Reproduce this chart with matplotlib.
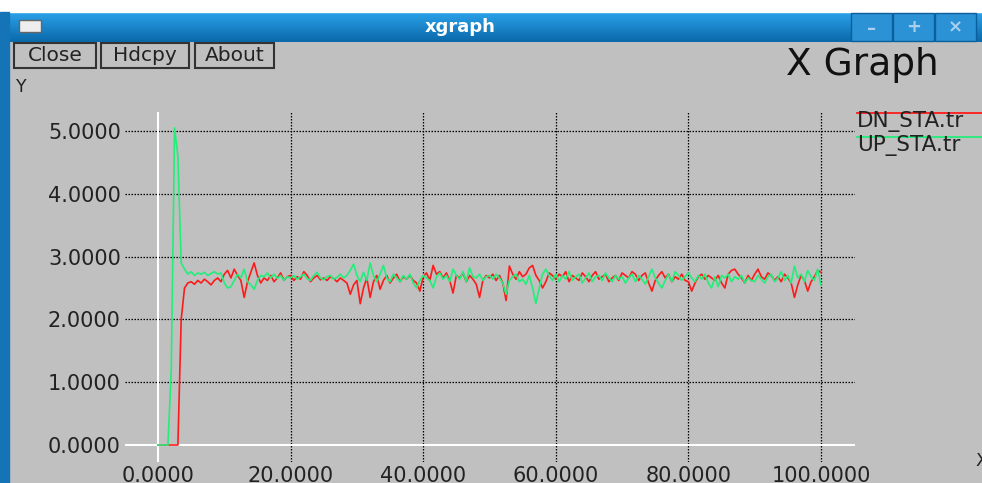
# xgraph window: DN_STA.tr vs UP_STA.tr throughput traces

import numpy as np  # numerical helpers
import matplotlib
matplotlib.use("Agg")
import matplotlib.pyplot as plt  # plotting
from matplotlib.patches import Rectangle  # window chrome boxes
from matplotlib.colors import LinearSegmentedColormap  # title bar gradient

plt.rcParams['font.family'] = ['DejaVu Sans']

W, H = 982, 483  # output size in pixels

# Data
time = np.arange(0, 100.5, 0.5)  # sample times, 0.5 s apart

dn_sta = [
    0, 0, 0, 0, 0, 0, 0, 2.0, 2.5, 2.58, 2.6, 2.56, 2.62, 2.58, 2.64, 2.6, 2.55, 2.62, 2.66, 2.6,
    2.72, 2.78, 2.66, 2.8, 2.7, 2.62, 2.35, 2.6, 2.75, 2.9, 2.7, 2.58, 2.66, 2.62, 2.7, 2.6, 2.66, 2.74, 2.62, 2.68,
    2.7, 2.62, 2.68, 2.64, 2.76, 2.7, 2.6, 2.66, 2.7, 2.63, 2.66, 2.62, 2.68, 2.65, 2.6, 2.66, 2.62, 2.58, 2.4, 2.55,
    2.62, 2.25, 2.5, 2.66, 2.35, 2.6, 2.7, 2.48, 2.62, 2.7, 2.58, 2.66, 2.72, 2.6, 2.68, 2.64, 2.7, 2.62, 2.58, 2.45,
    2.68, 2.74, 2.62, 2.86, 2.72, 2.76, 2.66, 2.74, 2.62, 2.42, 2.7, 2.66, 2.74, 2.6, 2.7, 2.64, 2.56, 2.35, 2.62, 2.7,
    2.66, 2.72, 2.62, 2.7, 2.58, 2.3, 2.85, 2.72, 2.64, 2.76, 2.68, 2.72, 2.82, 2.86, 2.7, 2.62, 2.5, 2.6, 2.74, 2.7,
    2.64, 2.72, 2.68, 2.76, 2.6, 2.7, 2.66, 2.62, 2.74, 2.68, 2.6, 2.7, 2.76, 2.64, 2.68, 2.72, 2.6, 2.66, 2.7, 2.62,
    2.74, 2.7, 2.66, 2.76, 2.72, 2.62, 2.7, 2.74, 2.58, 2.45, 2.62, 2.7, 2.76, 2.66, 2.72, 2.6, 2.68, 2.64, 2.72, 2.62,
    2.6, 2.45, 2.58, 2.68, 2.72, 2.64, 2.7, 2.66, 2.62, 2.7, 2.58, 2.5, 2.72, 2.78, 2.8, 2.72, 2.66, 2.58, 2.7, 2.62,
    2.72, 2.8, 2.68, 2.64, 2.74, 2.7, 2.62, 2.68, 2.6, 2.72, 2.66, 2.58, 2.35, 2.55, 2.7, 2.62, 2.45, 2.6, 2.68, 2.78,
    2.75,
]

up_sta = [
    0, 0, 0, 0, 1.2, 5.05, 4.6, 2.9, 2.8, 2.72, 2.76, 2.7, 2.74, 2.72, 2.75, 2.7, 2.73, 2.76, 2.72, 2.74,
    2.58, 2.5, 2.52, 2.62, 2.72, 2.66, 2.8, 2.6, 2.55, 2.48, 2.62, 2.7, 2.68, 2.74, 2.66, 2.72, 2.65, 2.7, 2.62, 2.68,
    2.66, 2.7, 2.64, 2.68, 2.72, 2.65, 2.62, 2.7, 2.75, 2.66, 2.63, 2.68, 2.7, 2.64, 2.67, 2.72, 2.66, 2.7, 2.78, 2.88,
    2.7, 2.6, 2.75, 2.62, 2.9, 2.7, 2.6, 2.72, 2.86, 2.66, 2.6, 2.72, 2.66, 2.6, 2.7, 2.64, 2.72, 2.58, 2.5, 2.62,
    2.7, 2.66, 2.62, 2.5, 2.68, 2.74, 2.64, 2.7, 2.6, 2.8, 2.7, 2.64, 2.76, 2.6, 2.82, 2.68, 2.66, 2.72, 2.62, 2.68,
    2.7, 2.64, 2.72, 2.66, 2.58, 2.4, 2.62, 2.68, 2.72, 2.6, 2.64, 2.56, 2.7, 2.5, 2.25, 2.5, 2.72, 2.8, 2.7, 2.62,
    2.72, 2.6, 2.7, 2.64, 2.76, 2.62, 2.68, 2.72, 2.58, 2.66, 2.74, 2.6, 2.68, 2.7, 2.62, 2.74, 2.66, 2.6, 2.7, 2.64,
    2.68, 2.58, 2.66, 2.72, 2.6, 2.7, 2.64, 2.56, 2.68, 2.8, 2.66, 2.58, 2.5, 2.62, 2.72, 2.6, 2.76, 2.7, 2.62, 2.68,
    2.74, 2.66, 2.6, 2.7, 2.64, 2.72, 2.58, 2.5, 2.68, 2.52, 2.7, 2.66, 2.72, 2.6, 2.68, 2.64, 2.7, 2.58, 2.66, 2.62,
    2.6, 2.7, 2.64, 2.58, 2.68, 2.72, 2.6, 2.66, 2.76, 2.62, 2.7, 2.58, 2.85, 2.66, 2.72, 2.6, 2.78, 2.68, 2.62, 2.8,
    2.55,
]

x_ticks = [0, 20, 40, 60, 80, 100]
y_ticks = [0, 1, 2, 3, 4, 5]
x_labels = ["0.0000", "20.0000", "40.0000", "60.0000", "80.0000", "100.0000"]
y_labels = ["0.0000", "1.0000", "2.0000", "3.0000", "4.0000", "5.0000"]
series_names = ["DN_STA.tr", "UP_STA.tr"]
series_colors = ["#ff1a1a", "#22ee7a"]
buttons = ["Close", "Hdcpy", "About"]

GRAY = "#c0c0c0"

fig = plt.figure(figsize=(W / 100, H / 100), dpi=100, facecolor=GRAY)

# Background axes in pixel coordinates (y grows downward) for the window chrome
bg = fig.add_axes([0, 0, 1, 1], zorder=0)
bg.axis("off")

bg.add_patch(Rectangle((0, 0), W, 12, color="white"))  # strip above the window
grad = np.linspace(0, 1, 30).reshape(-1, 1)
tb_cmap = LinearSegmentedColormap.from_list("tb", ["#2ba2ea", "#0a69aa"])
bg.imshow(grad, cmap=tb_cmap, extent=(6, W, 42, 12), aspect="auto")
bg.add_patch(Rectangle((0, 12), 9, H - 12, color="#1474b6"))  # left border
bg.add_patch(Rectangle((19, 20), 22, 12, facecolor="#eeeeee", edgecolor="#666666", lw=1))
bg.text(460, 27, "xgraph", color="white", fontsize=13, fontweight="bold", ha="center", va="center")

# window buttons on the right of the title bar
for x0, sym in zip([851, 893, 935], ["\u2013", "+", "\u00d7"]):
    bg.add_patch(Rectangle((x0, 13), 41, 28, facecolor="#2c92d6", edgecolor="#0b5f9c", lw=1))
    bg.text(x0 + 20.5, 29 if sym == "\u2013" else 27, sym, color="#a8d0ee",
            fontsize=13, fontweight="bold", ha="center", va="center")

# Close / Hdcpy / About buttons
for (x0, x1), name in zip([(14, 96), (101, 189), (195, 274)], buttons):
    bg.add_patch(Rectangle((x0, 43), x1 - x0, 25, facecolor=GRAY, edgecolor="#333333", lw=1.5))
    bg.text((x0 + x1) / 2, 55.5, name, color="#222222", fontsize=14.5, ha="center", va="center")

bg.text(862, 65, "X Graph", color="#111111", fontsize=27, ha="center", va="center")
bg.text(16, 87, "Y", color="#222222", fontsize=12.5, ha="left", va="center")
bg.text(975, 461, "X", color="#222222", fontsize=13, ha="left", va="center")

# legend at the right of the plot
for k, (name, col) in enumerate(zip(series_names, series_colors)):
    ly = 113 + 24 * k
    bg.plot([857, W], [ly, ly], color=col, lw=1.3)
    bg.text(857, ly + 9, name, color="#222222", fontsize=15.5, ha="left", va="center")

bg.set_xlim(0, W)
bg.set_ylim(H, 0)

# Data axes: x px = 158 + 6.63*t, y px = 445 - 62.8*v
ax = fig.add_axes([125 / W, (H - 462) / H, 730 / W, 350 / H], zorder=1)
ax.patch.set_alpha(0)
for sp in ax.spines.values():
    sp.set_visible(False)

for yv in y_ticks[1:]:
    ax.axhline(yv, color="black", lw=0.9, ls=(0, (1.2, 1.2)), zorder=1)
for xv in x_ticks[1:]:
    ax.axvline(xv, color="black", lw=0.9, ls=(0, (1.2, 1.2)), zorder=1)
ax.axhline(0, color="white", lw=1.5, zorder=1)
ax.axvline(0, color="white", lw=1.5, zorder=1)

ax.plot(time, dn_sta, color=series_colors[0], lw=1.2, zorder=3)
ax.plot(time, up_sta, color=series_colors[1], lw=1.2, zorder=4)

ax.set_xlim(-4.977, 105.13)
ax.set_ylim(-0.2707, 5.3025)
ax.set_xticks(x_ticks, x_labels)
ax.set_yticks(y_ticks, y_labels)
ax.tick_params(length=0, labelsize=15, labelcolor="#222222")
ax.tick_params(axis="y", pad=3)
ax.tick_params(axis="x", pad=3)

fig.savefig("out.png", dpi=100, facecolor=GRAY)
